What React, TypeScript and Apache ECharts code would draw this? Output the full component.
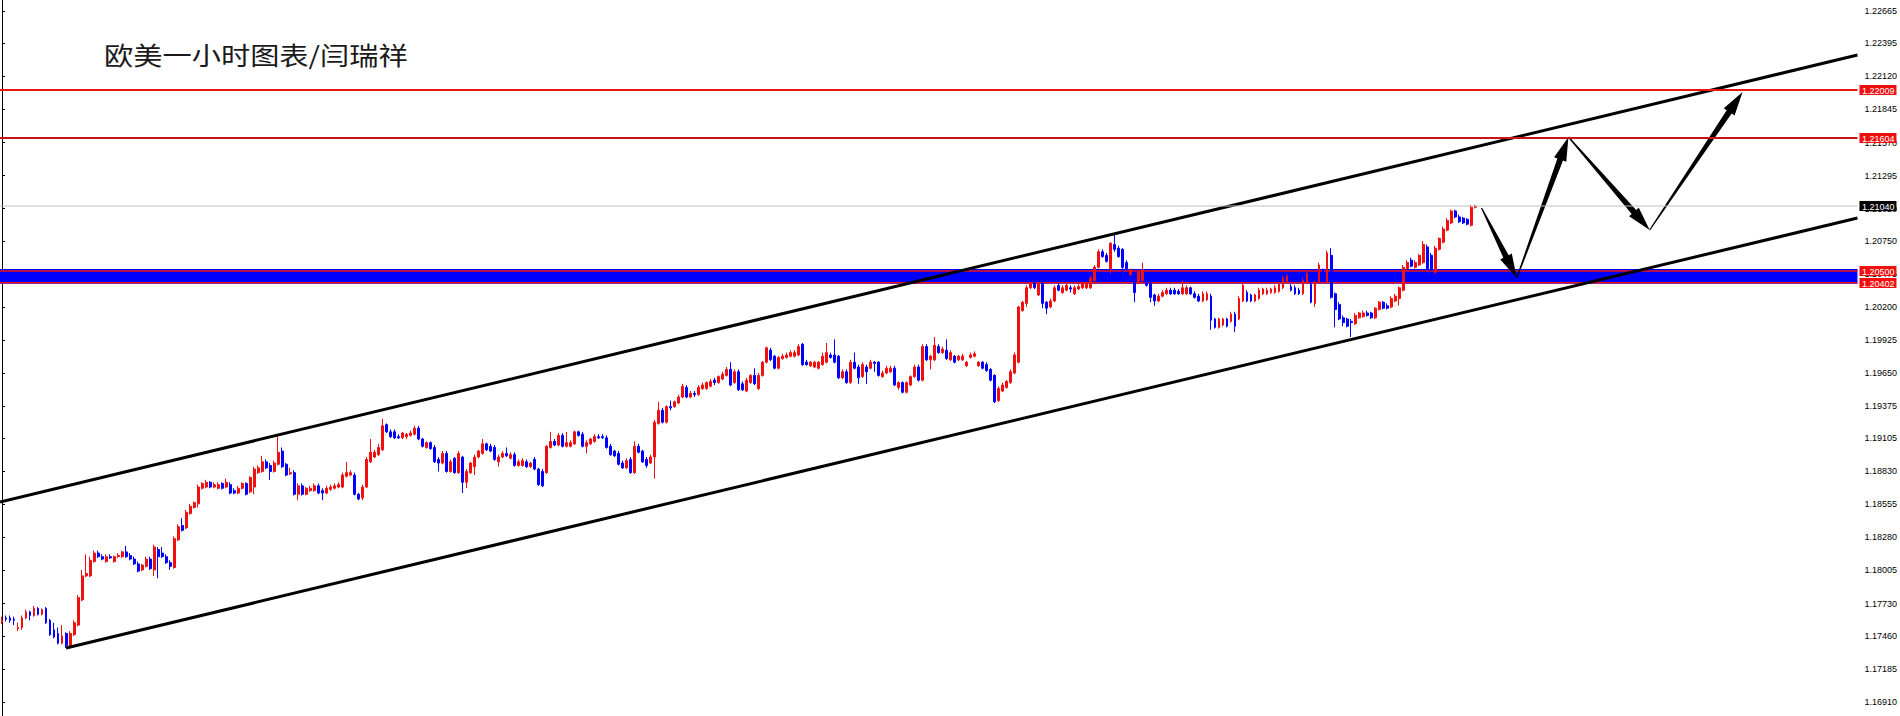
import React, { useEffect, useRef } from 'react';
import * as echarts from 'echarts';

const TITLE = '欧美一小时图表/闫瑞祥';

// [open, close, low, high] per hourly candle
const candles: [number, number, number, number][] = [
  [1.1758,1.1759,1.1756,1.1762],[1.1761,1.1760,1.1758,1.1763],[1.1761,1.1759,1.1757,1.1763],[1.1760,1.1759,1.1755,1.1762],
  [1.1752,1.1753,1.1750,1.1757],[1.1753,1.1761,1.1751,1.1763],[1.1761,1.1766,1.1760,1.1768],[1.1766,1.1763,1.1759,1.1767],
  [1.1763,1.1769,1.1762,1.1771],[1.1769,1.1764,1.1763,1.1770],[1.1764,1.1768,1.1763,1.1769],[1.1769,1.1757,1.1756,1.1770],
  [1.1759,1.1747,1.1746,1.1760],[1.1751,1.1745,1.1744,1.1757],[1.1748,1.1740,1.1739,1.1753],[1.1740,1.1746,1.1739,1.1755],
  [1.1748,1.1738,1.1736,1.1749],[1.1738,1.1748,1.1737,1.1750],[1.1747,1.1757,1.1746,1.1759],[1.1755,1.1778,1.1754,1.1780],
  [1.1776,1.1796,1.1775,1.1801],[1.1796,1.1798,1.1795,1.1814],[1.1796,1.1809,1.1795,1.1812],[1.1808,1.1815,1.1807,1.1817],
  [1.1815,1.1812,1.1811,1.1817],[1.1812,1.1810,1.1809,1.1814],[1.1808,1.1812,1.1807,1.1814],[1.1812,1.1811,1.1810,1.1814],
  [1.1808,1.1812,1.1807,1.1813],[1.1812,1.1813,1.1811,1.1815],[1.1812,1.1816,1.1811,1.1817],[1.1816,1.1812,1.1811,1.1821],
  [1.1813,1.1810,1.1809,1.1815],[1.1810,1.1806,1.1805,1.1812],[1.1806,1.1800,1.1799,1.1808],[1.1801,1.1805,1.1800,1.1806],
  [1.1804,1.1810,1.1803,1.1812],[1.1810,1.1802,1.1801,1.1812],[1.1801,1.1820,1.1796,1.1822],[1.1818,1.1812,1.1794,1.1820],
  [1.1815,1.1812,1.1811,1.1820],[1.1812,1.1807,1.1806,1.1814],[1.1807,1.1804,1.1801,1.1809],[1.1803,1.1827,1.1802,1.1829],
  [1.1826,1.1837,1.1825,1.1839],[1.1838,1.1834,1.1833,1.1844],[1.1836,1.1849,1.1835,1.1851],[1.1848,1.1854,1.1847,1.1856],
  [1.1853,1.1857,1.1852,1.1858],[1.1856,1.1870,1.1853,1.1872],[1.1869,1.1873,1.1868,1.1874],[1.1870,1.1874,1.1869,1.1876],
  [1.1874,1.1870,1.1869,1.1875],[1.1870,1.1872,1.1869,1.1874],[1.1869,1.1872,1.1868,1.1874],[1.1873,1.1869,1.1868,1.1874],
  [1.1870,1.1874,1.1869,1.1877],[1.1872,1.1865,1.1864,1.1874],[1.1867,1.1865,1.1864,1.1869],[1.1865,1.1869,1.1864,1.1871],
  [1.1869,1.1873,1.1868,1.1874],[1.1873,1.1864,1.1863,1.1874],[1.1866,1.1878,1.1865,1.1879],[1.1870,1.1885,1.1864,1.1887],
  [1.1882,1.1886,1.1881,1.1888],[1.1883,1.1891,1.1882,1.1896],[1.1891,1.1886,1.1885,1.1893],[1.1888,1.1883,1.1876,1.1890],
  [1.1883,1.1890,1.1882,1.1892],[1.1889,1.1899,1.1888,1.1914],[1.1900,1.1887,1.1886,1.1903],[1.1889,1.1880,1.1879,1.1890],
  [1.1881,1.1882,1.1880,1.1886],[1.1882,1.1864,1.1863,1.1884],[1.1864,1.1871,1.1859,1.1873],[1.1871,1.1864,1.1863,1.1873],
  [1.1864,1.1869,1.1863,1.1870],[1.1867,1.1869,1.1866,1.1871],[1.1867,1.1871,1.1866,1.1873],[1.1871,1.1865,1.1864,1.1873],
  [1.1867,1.1865,1.1859,1.1869],[1.1865,1.1869,1.1864,1.1871],[1.1868,1.1870,1.1867,1.1872],[1.1869,1.1871,1.1868,1.1873],
  [1.1870,1.1872,1.1869,1.1874],[1.1870,1.1880,1.1869,1.1882],[1.1879,1.1882,1.1878,1.1891],[1.1880,1.1882,1.1879,1.1884],
  [1.1880,1.1864,1.1863,1.1882],[1.1864,1.1860,1.1859,1.1865],[1.1861,1.1870,1.1859,1.1872],[1.1870,1.1893,1.1869,1.1895],
  [1.1891,1.1899,1.1890,1.1910],[1.1895,1.1899,1.1894,1.1901],[1.1897,1.1903,1.1896,1.1906],[1.1901,1.1921,1.1900,1.1927],
  [1.1922,1.1916,1.1915,1.1923],[1.1916,1.1912,1.1911,1.1918],[1.1916,1.1911,1.1910,1.1918],[1.1912,1.1911,1.1910,1.1914],
  [1.1911,1.1915,1.1910,1.1916],[1.1912,1.1914,1.1910,1.1915],[1.1913,1.1915,1.1912,1.1917],[1.1914,1.1919,1.1913,1.1921],
  [1.1919,1.1910,1.1909,1.1921],[1.1910,1.1904,1.1903,1.1911],[1.1903,1.1907,1.1902,1.1908],[1.1907,1.1902,1.1901,1.1908],
  [1.1903,1.1891,1.1890,1.1905],[1.1893,1.1890,1.1883,1.1895],[1.1890,1.1898,1.1889,1.1900],[1.1898,1.1883,1.1882,1.1900],
  [1.1883,1.1891,1.1882,1.1893],[1.1894,1.1882,1.1881,1.1895],[1.1882,1.1898,1.1881,1.1900],[1.1895,1.1874,1.1865,1.1896],
  [1.1874,1.1883,1.1869,1.1885],[1.1882,1.1890,1.1881,1.1891],[1.1887,1.1895,1.1880,1.1897],[1.1895,1.1900,1.1894,1.1901],
  [1.1898,1.1906,1.1897,1.1910],[1.1906,1.1901,1.1900,1.1907],[1.1904,1.1900,1.1899,1.1906],[1.1903,1.1893,1.1892,1.1905],
  [1.1891,1.1895,1.1887,1.1897],[1.1895,1.1898,1.1894,1.1900],[1.1898,1.1896,1.1895,1.1903],[1.1894,1.1897,1.1893,1.1899],
  [1.1897,1.1888,1.1887,1.1899],[1.1888,1.1891,1.1887,1.1893],[1.1888,1.1892,1.1887,1.1894],[1.1891,1.1887,1.1886,1.1893],
  [1.1887,1.1890,1.1886,1.1891],[1.1893,1.1885,1.1884,1.1895],[1.1885,1.1872,1.1871,1.1886],[1.1883,1.1871,1.1870,1.1885],
  [1.1882,1.1904,1.1881,1.1905],[1.1903,1.1908,1.1902,1.1916],[1.1908,1.1905,1.1904,1.1910],[1.1905,1.1913,1.1904,1.1915],
  [1.1913,1.1904,1.1903,1.1915],[1.1904,1.1907,1.1903,1.1916],[1.1904,1.1907,1.1903,1.1909],[1.1906,1.1916,1.1905,1.1917],
  [1.1916,1.1913,1.1912,1.1917],[1.1914,1.1904,1.1903,1.1916],[1.1904,1.1907,1.1898,1.1909],[1.1906,1.1910,1.1905,1.1911],
  [1.1908,1.1912,1.1907,1.1914],[1.1912,1.1911,1.1910,1.1914],[1.1912,1.1911,1.1910,1.1914],[1.1911,1.1903,1.1902,1.1913],
  [1.1904,1.1897,1.1896,1.1906],[1.1900,1.1896,1.1895,1.1901],[1.1898,1.1889,1.1888,1.1900],[1.1890,1.1886,1.1885,1.1892],
  [1.1886,1.1892,1.1885,1.1894],[1.1893,1.1882,1.1881,1.1895],[1.1882,1.1904,1.1881,1.1908],[1.1904,1.1899,1.1898,1.1906],
  [1.1900,1.1891,1.1890,1.1901],[1.1893,1.1888,1.1886,1.1895],[1.1890,1.1895,1.1889,1.1897],[1.1895,1.1924,1.1877,1.1926],
  [1.1923,1.1934,1.1922,1.1941],[1.1934,1.1924,1.1923,1.1936],[1.1924,1.1937,1.1923,1.1938],[1.1937,1.1936,1.1934,1.1942],
  [1.1937,1.1941,1.1936,1.1942],[1.1940,1.1945,1.1939,1.1947],[1.1945,1.1954,1.1944,1.1956],[1.1953,1.1945,1.1944,1.1955],
  [1.1945,1.1948,1.1944,1.1950],[1.1948,1.1947,1.1945,1.1950],[1.1947,1.1953,1.1946,1.1955],[1.1952,1.1955,1.1951,1.1957],
  [1.1952,1.1957,1.1951,1.1958],[1.1954,1.1958,1.1953,1.1960],[1.1959,1.1957,1.1955,1.1961],[1.1957,1.1962,1.1956,1.1963],
  [1.1960,1.1964,1.1959,1.1966],[1.1963,1.1968,1.1962,1.1970],[1.1968,1.1955,1.1954,1.1974],[1.1957,1.1966,1.1956,1.1968],
  [1.1966,1.1951,1.1950,1.1968],[1.1956,1.1951,1.1950,1.1958],[1.1950,1.1959,1.1949,1.1961],[1.1957,1.1963,1.1956,1.1964],
  [1.1963,1.1956,1.1955,1.1969],[1.1952,1.1963,1.1951,1.1965],[1.1963,1.1974,1.1962,1.1975],[1.1974,1.1986,1.1973,1.1987],
  [1.1984,1.1976,1.1975,1.1986],[1.1979,1.1969,1.1968,1.1980],[1.1969,1.1978,1.1968,1.1979],[1.1977,1.1979,1.1976,1.1981],
  [1.1978,1.1980,1.1977,1.1982],[1.1979,1.1982,1.1978,1.1984],[1.1979,1.1982,1.1978,1.1984],[1.1980,1.1987,1.1979,1.1989],
  [1.1989,1.1972,1.1971,1.1990],[1.1974,1.1972,1.1971,1.1976],[1.1971,1.1974,1.1970,1.1975],[1.1970,1.1974,1.1969,1.1975],
  [1.1969,1.1974,1.1968,1.1975],[1.1972,1.1979,1.1971,1.1982],[1.1974,1.1982,1.1973,1.1990],[1.1980,1.1978,1.1977,1.1982],
  [1.1980,1.1974,1.1973,1.1993],[1.1979,1.1961,1.1960,1.1980],[1.1961,1.1966,1.1960,1.1968],[1.1966,1.1957,1.1956,1.1968],
  [1.1957,1.1974,1.1956,1.1976],[1.1974,1.1969,1.1968,1.1982],[1.1970,1.1961,1.1956,1.1972],[1.1962,1.1972,1.1961,1.1974],
  [1.1970,1.1966,1.1956,1.1972],[1.1969,1.1974,1.1968,1.1976],[1.1974,1.1973,1.1966,1.1975],[1.1974,1.1963,1.1962,1.1975],
  [1.1962,1.1965,1.1961,1.1967],[1.1965,1.1969,1.1964,1.1971],[1.1966,1.1969,1.1965,1.1971],[1.1969,1.1955,1.1954,1.1971],
  [1.1953,1.1957,1.1951,1.1958],[1.1957,1.1949,1.1948,1.1958],[1.1949,1.1957,1.1948,1.1958],[1.1955,1.1962,1.1954,1.1963],
  [1.1962,1.1970,1.1961,1.1972],[1.1970,1.1959,1.1958,1.1972],[1.1959,1.1987,1.1958,1.1989],[1.1987,1.1976,1.1975,1.1989],
  [1.1976,1.1979,1.1968,1.1980],[1.1976,1.1988,1.1975,1.1995],[1.1987,1.1982,1.1981,1.1989],[1.1982,1.1985,1.1981,1.1987],
  [1.1984,1.1977,1.1976,1.1993],[1.1976,1.1982,1.1975,1.1984],[1.1979,1.1974,1.1973,1.1980],[1.1976,1.1979,1.1975,1.1980],
  [1.1976,1.1979,1.1975,1.1981],[1.1971,1.1974,1.1970,1.1975],[1.1978,1.1980,1.1977,1.1982],[1.1979,1.1981,1.1978,1.1983],
  [1.1971,1.1974,1.1970,1.1975],[1.1974,1.1969,1.1968,1.1975],[1.1972,1.1967,1.1966,1.1974],[1.1968,1.1959,1.1958,1.1969],
  [1.1963,1.1941,1.1940,1.1964],[1.1942,1.1952,1.1941,1.1954],[1.1950,1.1955,1.1949,1.1957],[1.1953,1.1958,1.1952,1.1959],
  [1.1957,1.1966,1.1956,1.1968],[1.1965,1.1980,1.1964,1.1982],[1.1974,1.2020,1.1973,1.2021],[1.2017,1.2024,1.2016,1.2025],
  [1.2023,1.2036,1.2020,1.2038],[1.2036,1.2040,1.2035,1.2041],[1.2040,1.2036,1.2035,1.2041],[1.2030,1.2040,1.2029,1.2041],
  [1.2040,1.2023,1.2019,1.2041],[1.2024,1.2019,1.2014,1.2025],[1.2020,1.2025,1.2019,1.2027],[1.2025,1.2036,1.2024,1.2038],
  [1.2038,1.2034,1.2033,1.2040],[1.2032,1.2036,1.2031,1.2038],[1.2034,1.2038,1.2033,1.2040],[1.2036,1.2035,1.2032,1.2038],
  [1.2031,1.2036,1.2030,1.2038],[1.2035,1.2037,1.2034,1.2039],[1.2036,1.2040,1.2035,1.2041],[1.2036,1.2040,1.2035,1.2041],
  [1.2036,1.2044,1.2035,1.2046],[1.2042,1.2053,1.2041,1.2055],[1.2053,1.2066,1.2052,1.2068],[1.2066,1.2062,1.2061,1.2068],
  [1.2063,1.2058,1.2057,1.2065],[1.2052,1.2073,1.2048,1.2074],[1.2072,1.2068,1.2066,1.2080],[1.2069,1.2062,1.2061,1.2071],
  [1.2068,1.2053,1.2045,1.2069],[1.2057,1.2052,1.2051,1.2059],[1.2047,1.2051,1.2046,1.2052],[1.2047,1.2032,1.2024,1.2048],
  [1.2040,1.2049,1.2039,1.2051],[1.2042,1.2051,1.2041,1.2057],[1.2045,1.2038,1.2037,1.2047],[1.2040,1.2028,1.2024,1.2041],
  [1.2030,1.2025,1.2021,1.2031],[1.2025,1.2029,1.2024,1.2031],[1.2029,1.2032,1.2028,1.2034],[1.2031,1.2034,1.2030,1.2036],
  [1.2034,1.2031,1.2030,1.2036],[1.2034,1.2031,1.2030,1.2036],[1.2033,1.2031,1.2030,1.2035],[1.2031,1.2036,1.2030,1.2042],
  [1.2031,1.2036,1.2030,1.2038],[1.2036,1.2031,1.2030,1.2037],[1.2031,1.2028,1.2027,1.2033],[1.2029,1.2025,1.2024,1.2031],
  [1.2025,1.2031,1.2024,1.2033],[1.2026,1.2031,1.2025,1.2033],[1.2029,1.2009,1.2001,1.2031],[1.2010,1.2003,1.2002,1.2011],
  [1.2003,1.2010,1.2002,1.2011],[1.2005,1.2010,1.2004,1.2011],[1.2010,1.2004,1.2003,1.2011],[1.2008,1.2014,1.2007,1.2016],
  [1.2014,1.2004,1.1999,1.2016],[1.2010,1.2027,1.2009,1.2029],[1.2025,1.2038,1.2024,1.2040],[1.2032,1.2025,1.2024,1.2034],
  [1.2030,1.2025,1.2024,1.2031],[1.2025,1.2030,1.2024,1.2031],[1.2027,1.2034,1.2026,1.2036],[1.2031,1.2035,1.2030,1.2036],
  [1.2031,1.2034,1.2030,1.2036],[1.2032,1.2035,1.2031,1.2036],[1.2032,1.2036,1.2031,1.2038],[1.2033,1.2039,1.2032,1.2041],
  [1.2036,1.2044,1.2035,1.2046],[1.2041,1.2046,1.2040,1.2047],[1.2037,1.2034,1.2033,1.2039],[1.2036,1.2031,1.2030,1.2038],
  [1.2034,1.2031,1.2030,1.2036],[1.2031,1.2042,1.2030,1.2044],[1.2040,1.2048,1.2039,1.2051],[1.2039,1.2024,1.2023,1.2041],
  [1.2023,1.2041,1.2020,1.2042],[1.2041,1.2055,1.2040,1.2057],[1.2051,1.2042,1.2041,1.2052],[1.2041,1.2065,1.2040,1.2067],
  [1.2063,1.2028,1.2027,1.2069],[1.2031,1.2018,1.2003,1.2032],[1.2022,1.2010,1.2009,1.2024],[1.2011,1.2007,1.2004,1.2013],
  [1.2010,1.2004,1.2003,1.2011],[1.2008,1.2007,1.1995,1.2010],[1.2006,1.2013,1.2005,1.2015],[1.2011,1.2015,1.2010,1.2016],
  [1.2012,1.2015,1.2011,1.2017],[1.2015,1.2013,1.2012,1.2017],[1.2015,1.2011,1.2010,1.2016],[1.2011,1.2019,1.2010,1.2020],
  [1.2018,1.2024,1.2017,1.2025],[1.2024,1.2019,1.2018,1.2025],[1.2021,1.2019,1.2018,1.2023],[1.2020,1.2027,1.2019,1.2029],
  [1.2025,1.2029,1.2024,1.2031],[1.2027,1.2036,1.2021,1.2037],[1.2034,1.2053,1.2033,1.2055],[1.2052,1.2057,1.2051,1.2059],
  [1.2059,1.2054,1.2053,1.2061],[1.2053,1.2057,1.2052,1.2059],[1.2055,1.2063,1.2054,1.2064],[1.2057,1.2072,1.2056,1.2075],
  [1.2070,1.2052,1.2051,1.2072],[1.2063,1.2051,1.2050,1.2065],[1.2049,1.2069,1.2048,1.2071],[1.2068,1.2077,1.2067,1.2078],
  [1.2074,1.2085,1.2073,1.2087],[1.2084,1.2092,1.2083,1.2094],[1.2090,1.2100,1.2089,1.2101],[1.2100,1.2095,1.2094,1.2101],
  [1.2095,1.2091,1.2090,1.2097],[1.2094,1.2090,1.2089,1.2095],[1.2093,1.2089,1.2088,1.2094],[1.2088,1.2103,1.2087,1.2105],
  [1.2103,1.2104,1.2102,1.2105],
];

const SLOT_COUNT = 464; // hourly slots shown on the chart, incl. empty right margin
const slotLabels = Array.from({ length: SLOT_COUNT }, (_, i) => String(i + 1));

const tickValues = [
  1.22665, 1.22395, 1.2212, 1.21845, 1.2157, 1.21295, 1.2102, 1.2075, 1.20475, 1.202, 1.19925,
  1.1965, 1.19375, 1.19105, 1.1883, 1.18555, 1.1828, 1.18005, 1.1773, 1.1746, 1.17185, 1.1691,
];
const Y_MIN = 1.16793;
const Y_MAX = 1.22757;

// price levels with a tag on the price scale
const levelPrices = [1.22009, 1.21604, 1.2104, 1.205, 1.20402];
const levelLineColors = ['#e81414', '#c81414', '#c0c0c0', '', ''];
const levelLineWidths = [2, 2, 1, 0, 0];
const levelTagColors = ['#f01010', '#f01010', '#000000', '#f01010', '#f01010'];

const zoneLow = 1.20402;
const zoneHigh = 1.205;

const channelUpper = [[-0.5, 1.18576], [463.5, 1.22299]];
const channelLower = [[16, 1.1736], [463.5, 1.20941]];

const pathSlots = [369.6, 378.4, 391.3, 411.6, 434.8];
const pathPrices = [1.21025, 1.20442, 1.21616, 1.20841, 1.21991];

const RED = '#f01010';
const BLUE = '#0000ff';
const AXIS_FONT = '"Liberation Sans", Arial, sans-serif';

export default function App() {
  const ref = useRef<HTMLDivElement>(null);

  useEffect(() => {
    if (!ref.current) return;
    const chart = echarts.init(ref.current, null, { renderer: 'svg', width: 1900, height: 716 });

    const arrowSegments = pathSlots
      .slice(0, -1)
      .map((x, i) => [x, pathPrices[i], pathSlots[i + 1], pathPrices[i + 1]]);

    const option: any = {
      animation: false,
      backgroundColor: '#ffffff',
      grid: { left: 0, right: 42, top: 0, bottom: 0 },
      graphic: [
        {
          type: 'text',
          x: 104,
          y: 54,
          scaleX: 1.17,
          scaleY: 1,
          style: {
            text: TITLE,
            fill: '#1a1a1a',
            font: '25px "Noto Sans CJK SC", sans-serif',
            textVerticalAlign: 'middle',
            textAlign: 'left',
          },
          z: 100,
        },
      ],
      xAxis: [
        { type: 'category', data: slotLabels, boundaryGap: true, show: false },
        { type: 'value', min: -0.5, max: SLOT_COUNT - 0.5, show: false },
      ],
      yAxis: {
        type: 'value',
        position: 'right',
        min: Y_MIN,
        max: Y_MAX,
        scale: true,
        axisLine: { show: true, lineStyle: { color: '#000000', width: 1 } },
        axisTick: { show: true, customValues: tickValues, length: 3, lineStyle: { color: '#000000' } },
        axisLabel: {
          customValues: tickValues,
          formatter: (v: number) => v.toFixed(5),
          color: '#000000',
          fontSize: 9,
          fontFamily: AXIS_FONT,
          margin: 7,
        },
        splitLine: { show: false },
      },
      series: [
        {
          type: 'custom',
          name: 'zone',
          xAxisIndex: 1,
          yAxisIndex: 0,
          z: 1,
          silent: true,
          data: [[zoneLow, zoneHigh]],
          renderItem: (params: any, api: any) => {
            const cs = params.coordSys;
            const top = api.coord([0, api.value(1)])[1];
            const bot = api.coord([0, api.value(0)])[1];
            return {
              type: 'group',
              children: [
                { type: 'rect', shape: { x: cs.x, y: top - 2, width: cs.width, height: bot - top + 3 }, style: { fill: BLUE } },
                { type: 'line', shape: { x1: cs.x, y1: top, x2: cs.x + cs.width, y2: top }, style: { stroke: RED, lineWidth: 1.5 } },
                { type: 'line', shape: { x1: cs.x, y1: bot, x2: cs.x + cs.width, y2: bot }, style: { stroke: RED, lineWidth: 1.5 } },
              ],
            };
          },
        },
        {
          type: 'candlestick',
          name: 'EURUSD H1',
          xAxisIndex: 0,
          yAxisIndex: 0,
          z: 3,
          barWidth: 2.4,
          data: candles,
          itemStyle: {
            color: RED,
            color0: BLUE,
            borderColor: RED,
            borderColor0: BLUE,
            borderWidth: 1,
          },
        },
        {
          type: 'line',
          name: 'channel top',
          xAxisIndex: 1,
          yAxisIndex: 0,
          z: 4,
          silent: true,
          symbol: 'none',
          data: channelUpper,
          lineStyle: { color: '#000000', width: 3 },
        },
        {
          type: 'line',
          name: 'channel bottom',
          xAxisIndex: 1,
          yAxisIndex: 0,
          z: 4,
          silent: true,
          symbol: 'none',
          data: channelLower,
          lineStyle: { color: '#000000', width: 3 },
        },
        {
          type: 'custom',
          name: 'path',
          xAxisIndex: 1,
          yAxisIndex: 0,
          z: 5,
          silent: true,
          data: arrowSegments,
          encode: { x: [0, 2], y: [1, 3] },
          renderItem: (params: any, api: any) => {
            const p0 = api.coord([api.value(0), api.value(1)]);
            const p1 = api.coord([api.value(2), api.value(3)]);
            const dx = p1[0] - p0[0];
            const dy = p1[1] - p0[1];
            const len = Math.hypot(dx, dy) || 1;
            const ux = dx / len;
            const uy = dy / len;
            const nx = -uy;
            const ny = ux;
            const headLen = 24;
            const headW = 6.5;
            const shaftW = 3;
            const tailW = 0.6;
            const bx = p1[0] - ux * headLen;
            const by = p1[1] - uy * headLen;
            const points = [
              [p0[0] + nx * tailW, p0[1] + ny * tailW],
              [bx + nx * shaftW, by + ny * shaftW],
              [bx + nx * headW, by + ny * headW],
              [p1[0], p1[1]],
              [bx - nx * headW, by - ny * headW],
              [bx - nx * shaftW, by - ny * shaftW],
              [p0[0] - nx * tailW, p0[1] - ny * tailW],
            ];
            return { type: 'polygon', shape: { points }, style: { fill: '#000000' } };
          },
        },
        {
          type: 'custom',
          name: 'levels',
          xAxisIndex: 1,
          yAxisIndex: 0,
          z: 10,
          silent: true,
          clip: false,
          dimensions: ['price'],
          encode: { y: 'price' },
          data: levelPrices.map((p) => [p]),
          renderItem: (params: any, api: any) => {
            const cs = params.coordSys;
            const i = params.dataIndex;
            const price = api.value(0);
            const y = Math.round(api.coord([0, price])[1]);
            const children: any[] = [];
            if (levelLineWidths[i] > 0) {
              children.push({
                type: 'line',
                shape: { x1: cs.x, y1: y, x2: cs.x + cs.width, y2: y },
                style: { stroke: levelLineColors[i], lineWidth: levelLineWidths[i] },
              });
            }
            const tx = cs.x + cs.width + 2;
            children.push({
              type: 'rect',
              shape: { x: tx, y: y - 5, width: 37, height: 10 },
              style: { fill: levelTagColors[i] },
            });
            children.push({
              type: 'text',
              style: {
                text: price.toFixed(5),
                x: tx + 2.5,
                y: y + 0.5,
                fill: '#ffffff',
                font: '9px ' + AXIS_FONT,
                align: 'left',
                verticalAlign: 'middle',
              },
            });
            return { type: 'group', children };
          },
        },
      ],
    };

    chart.setOption(option);
    return () => chart.dispose();
  }, []);

  return (
    <div
      ref={ref}
      style={{ position: 'fixed', left: 0, top: 0, width: 1900, height: 716, background: '#ffffff' }}
    />
  );
}
